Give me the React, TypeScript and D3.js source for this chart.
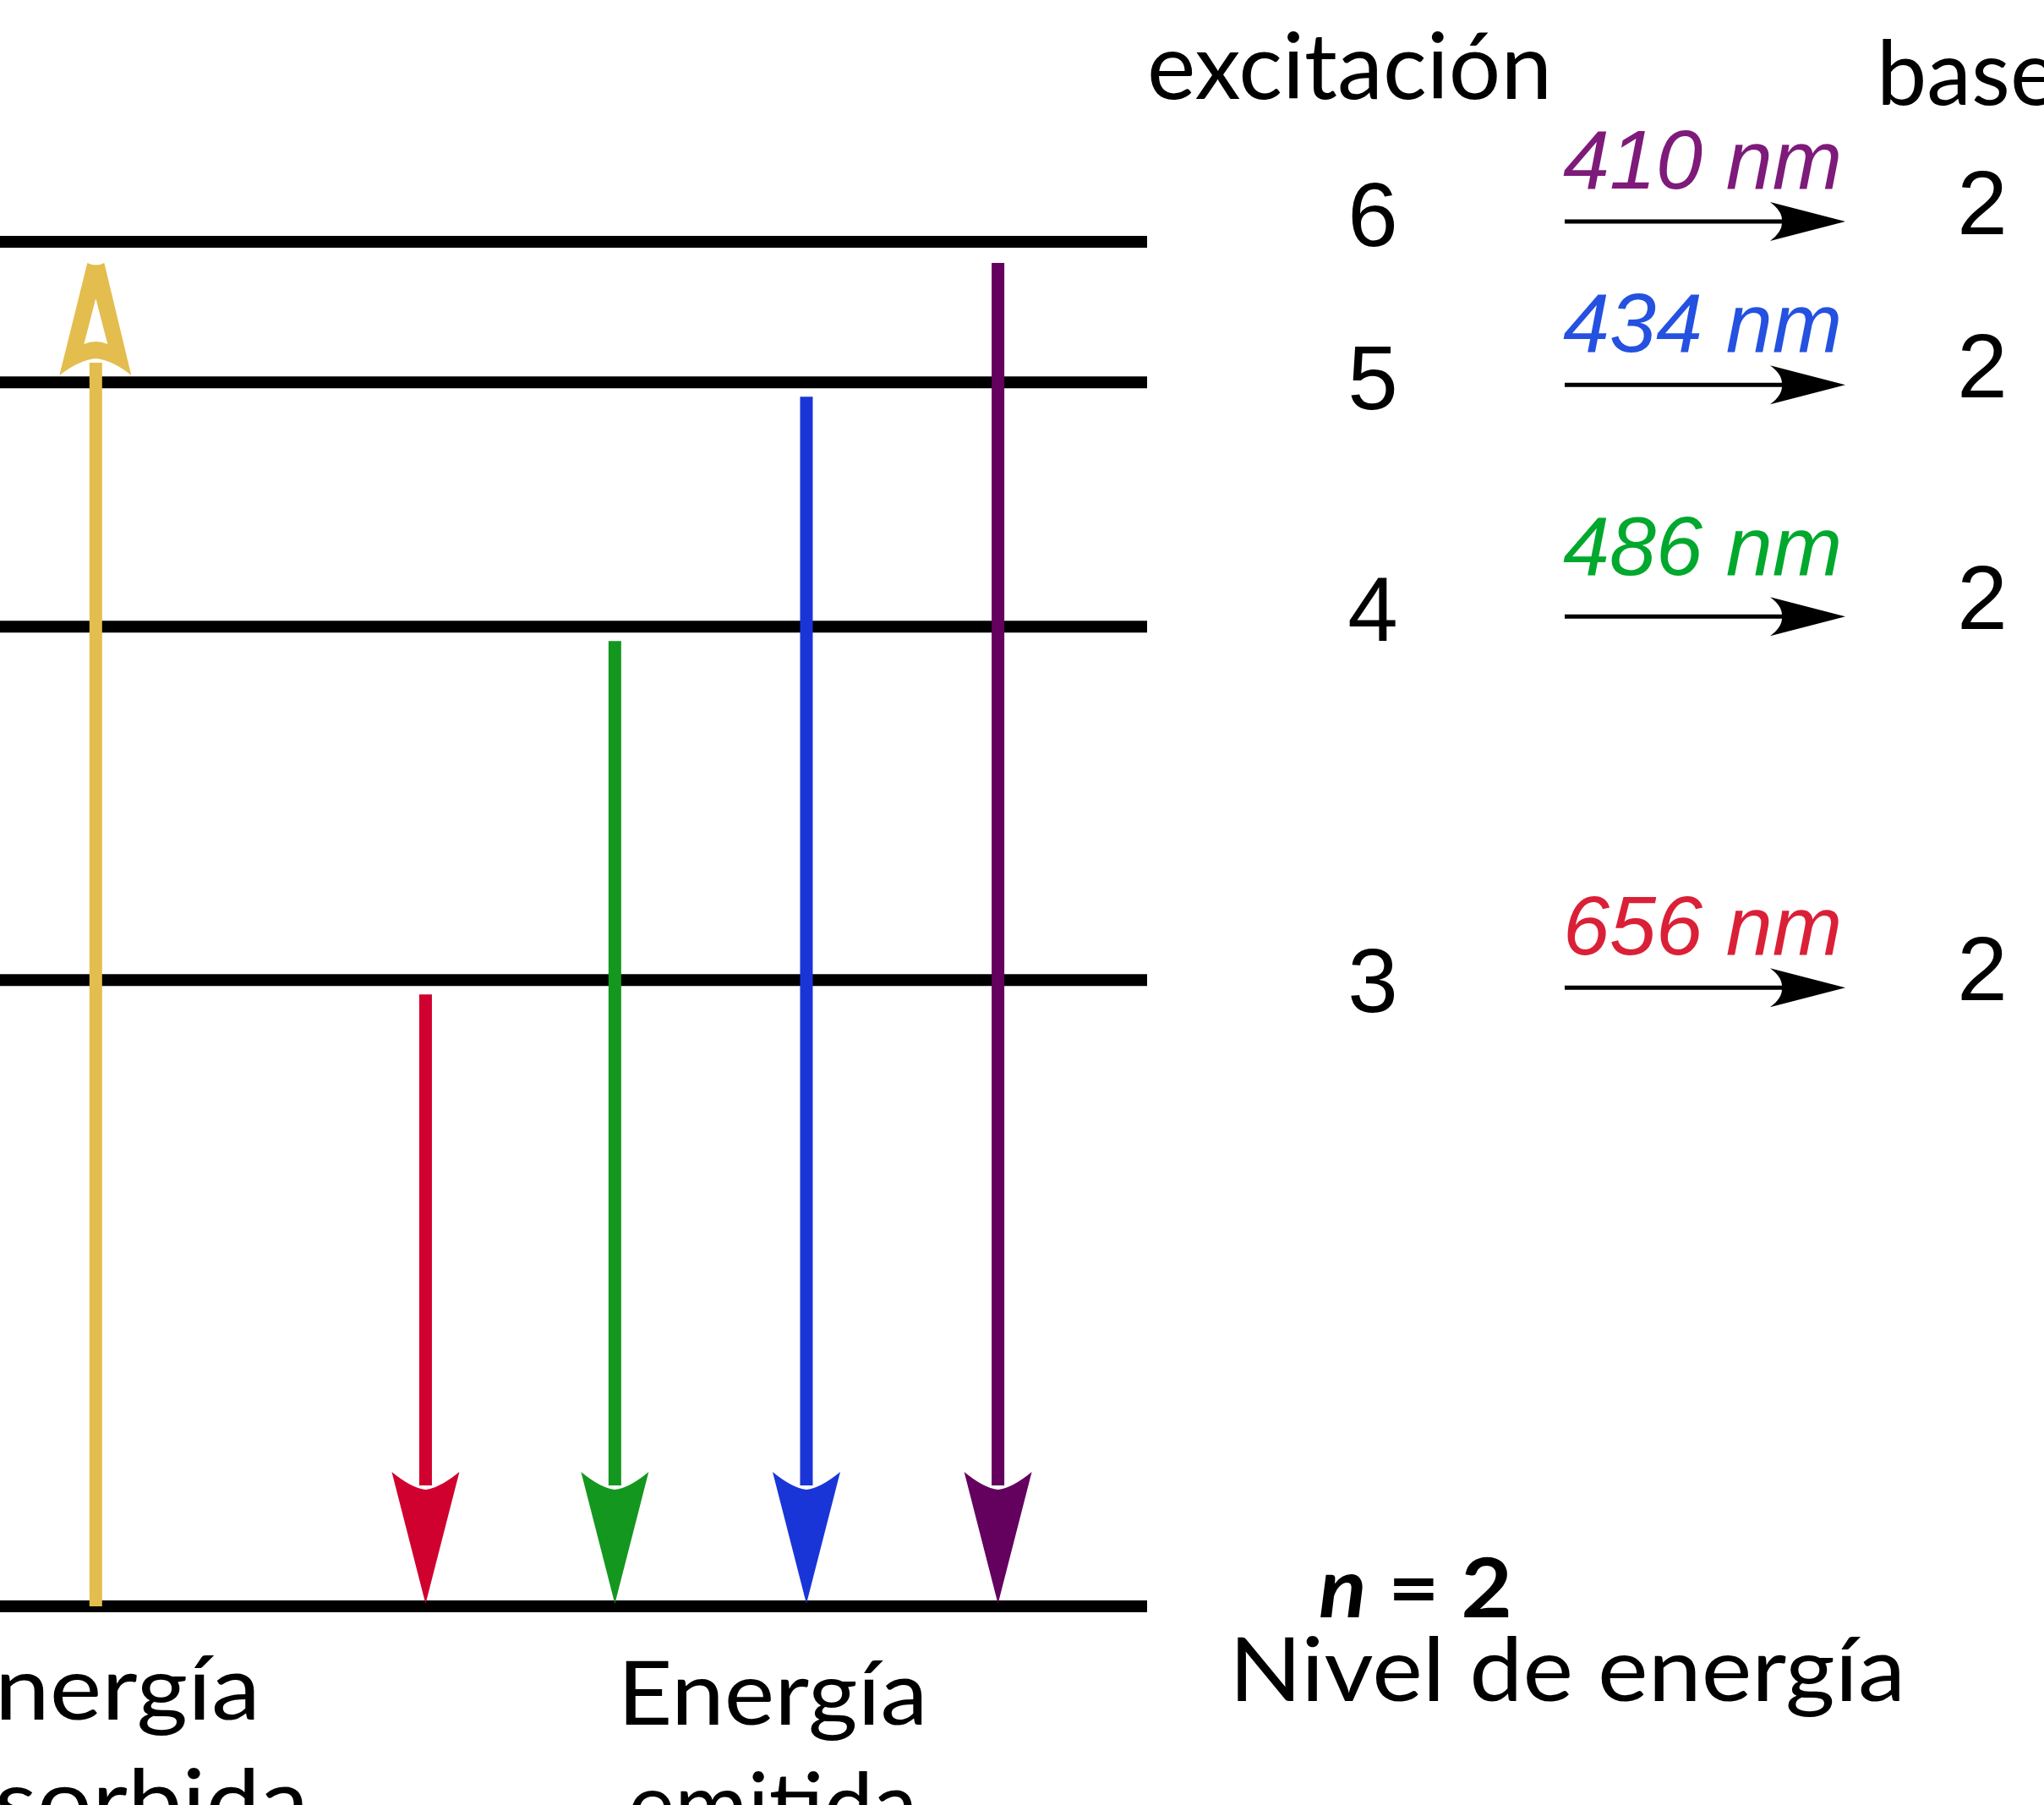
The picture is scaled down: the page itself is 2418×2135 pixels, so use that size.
import * as d3 from "d3";

// energy levels (n) and their schematic height in the diagram
const levels = [2, 3, 4, 5, 6];
const levelHeight = [0, 0.459, 0.718, 0.897, 1.0];

// emission transitions n -> 2
const emissionFrom = [3, 4, 5, 6];
const emissionColumn = [3.71, 5.36, 7.03, 8.7];
const emissionColor = ["#d0002f", "#14971f", "#1a35d7", "#64005e"];

// absorption 2 -> 6
const absorptionFrom = 2;
const absorptionTo = 6;
const absorptionColumn = 0.835;
const absorptionColor = "#e3bd4d";

// right-hand table, top row first
const tableUpper = [6, 5, 4, 3];
const tableLower = [2, 2, 2, 2];
const wavelengths = [410, 434, 486, 656];
const wavelengthColor = ["#7d1a7a", "#2451e0", "#00a82d", "#da2037"];
const rowShift = [-24, 3, -12, 9];

const W = 2418;
const H = 2135;
const wordFont = "Lato, 'Open Sans', sans-serif";
const numFont = "'Liberation Sans', Arial, sans-serif";

export default function App() {
  const x = d3.scaleLinear().domain([0, 10]).range([0, 1357]);
  const y = d3.scaleLinear().domain([0, 1]).range([1900, 286]);
  const yOf = (n: number) => y(levelHeight[levels.indexOf(n)]);

  const downHead = (cx: number, tip: number) => {
    const p = d3.path();
    p.moveTo(cx, tip);
    p.lineTo(cx + 40, tip - 156);
    p.quadraticCurveTo(cx + 17, tip - 137, cx, tip - 135);
    p.quadraticCurveTo(cx - 17, tip - 137, cx - 40, tip - 156);
    p.closePath();
    return p.toString();
  };

  const upHead = (cx: number, tip: number) => {
    const p = d3.path();
    p.moveTo(cx - 10, tip);
    p.quadraticCurveTo(cx, tip + 5, cx + 10, tip);
    p.lineTo(cx + 42, tip + 133);
    p.quadraticCurveTo(cx + 20, tip + 115, cx, tip + 113);
    p.quadraticCurveTo(cx - 20, tip + 115, cx - 43, tip + 133);
    p.closePath();
    // inner hole
    p.moveTo(cx, tip + 42);
    p.lineTo(cx + 14, tip + 96);
    p.quadraticCurveTo(cx, tip + 90, cx - 14, tip + 96);
    p.closePath();
    return p.toString();
  };

  const rightHead = (tip: number, cy: number) => {
    const p = d3.path();
    p.moveTo(tip, cy);
    p.lineTo(tip - 89, cy + 23);
    p.quadraticCurveTo(tip - 74, cy + 12, tip - 75, cy);
    p.quadraticCurveTo(tip - 74, cy - 12, tip - 89, cy - 23);
    p.closePath();
    return p.toString();
  };

  const arrowX0 = 1851;
  const arrowX1 = 2183;
  const absX = x(absorptionColumn);
  const absTip = yOf(absorptionTo) + 25;

  return (
    <svg
      width={W}
      height={H}
      viewBox={`0 0 ${W} ${H}`}
      style={{ position: "absolute", left: 0, top: 0, background: "#fff" }}
    >
      {/* level lines */}
      {levels.map((n) => (
        <line
          key={n}
          x1={-20}
          x2={x(10)}
          y1={yOf(n)}
          y2={yOf(n)}
          stroke="#000"
          strokeWidth={14}
        />
      ))}

      {/* absorbed energy */}
      <line
        x1={absX}
        x2={absX}
        y1={yOf(absorptionFrom)}
        y2={absTip + 118}
        stroke={absorptionColor}
        strokeWidth={15}
      />
      <path d={upHead(absX, absTip)} fill={absorptionColor} fillRule="evenodd" />

      {/* emitted energy */}
      {emissionFrom.map((n, i) => {
        const cx = x(emissionColumn[i]);
        const tip = yOf(2) - 3;
        const top = yOf(n) + (n === 6 ? 25 : 17);
        return (
          <g key={n}>
            <line
              x1={cx}
              x2={cx}
              y1={top}
              y2={tip - 140}
              stroke={emissionColor[i]}
              strokeWidth={15}
            />
            <path d={downHead(cx, tip)} fill={emissionColor[i]} />
          </g>
        );
      })}

      {/* table */}
      <text x={1357} y={117} fontFamily={wordFont} fontSize={108} textLength={479} lengthAdjust="spacingAndGlyphs">
        excitación
      </text>
      <text x={2220} y={124} fontFamily={wordFont} fontSize={106}>
        base
      </text>
      {tableUpper.map((n, i) => {
        const cy = yOf(n) + rowShift[i];
        return (
          <g key={n}>
            <text x={1624} y={cy + 29} textAnchor="middle" fontFamily={numFont} fontSize={107}>
              {n}
            </text>
            <text x={2345} y={cy + 15} textAnchor="middle" fontFamily={numFont} fontSize={107}>
              {tableLower[i]}
            </text>
            <text
              x={1849}
              y={cy - (i === 2 ? 49 : 39)}
              fontFamily={numFont}
              fontStyle="italic"
              fontSize={99}
              fill={wavelengthColor[i]}
            >
              {wavelengths[i]} nm
            </text>
            <line x1={arrowX0} x2={arrowX1 - 70} y1={cy} y2={cy} stroke="#000" strokeWidth={5} />
            <path d={rightHead(arrowX1, cy)} fill="#000" />
          </g>
        );
      })}

      {/* labels */}
      <text x={1560} y={1913} fontFamily={wordFont} fontWeight={700} fontSize={98} textLength={229} lengthAdjust="spacingAndGlyphs">
        <tspan fontStyle="italic">n</tspan> = 2
      </text>
      <text x={1454} y={2012} fontFamily={wordFont} fontSize={105} textLength={800} lengthAdjust="spacingAndGlyphs">
        Nivel de energía
      </text>
      <text x={-72} y={2034} fontFamily={wordFont} fontSize={105} textLength={380} lengthAdjust="spacingAndGlyphs">
        Energía
      </text>
      <text x={-128} y={2168} fontFamily={wordFont} fontSize={105} textLength={493} lengthAdjust="spacingAndGlyphs">
        absorbida
      </text>
      <text x={914} y={2040} textAnchor="middle" fontFamily={wordFont} fontSize={105} textLength={367} lengthAdjust="spacingAndGlyphs">
        Energía
      </text>
      <text x={914} y={2172} textAnchor="middle" fontFamily={wordFont} fontSize={105}>
        emitida
      </text>
    </svg>
  );
}
